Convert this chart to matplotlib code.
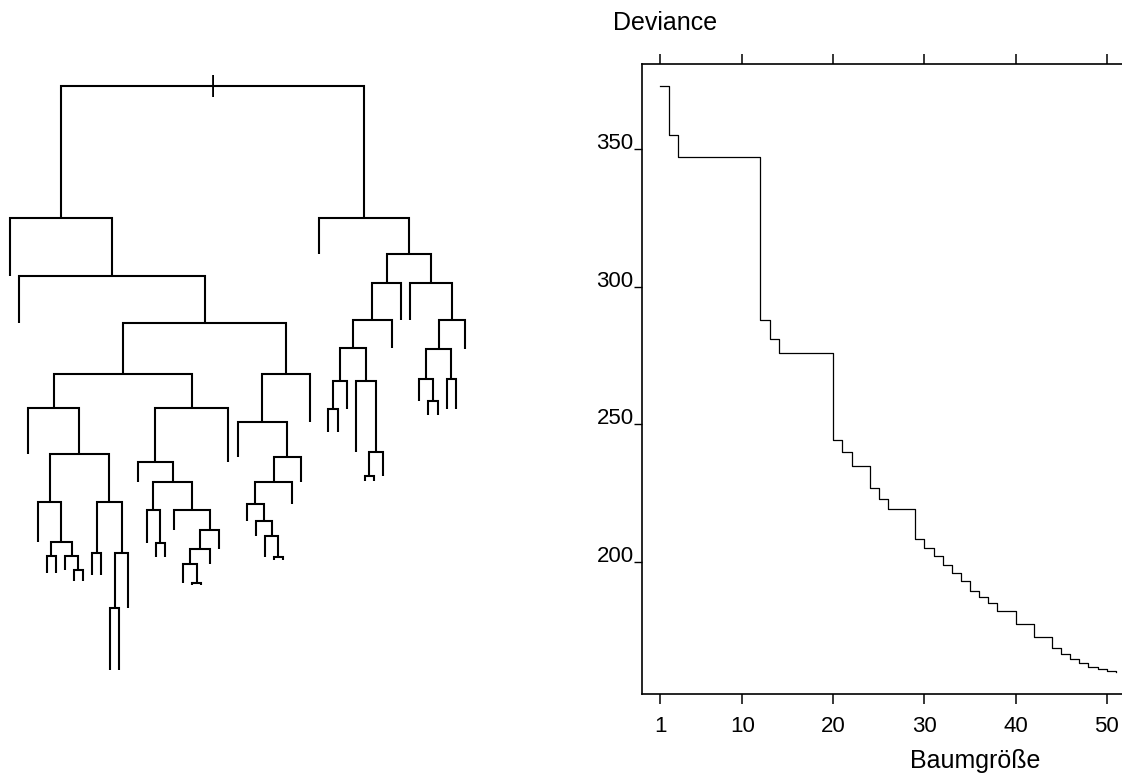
import matplotlib
matplotlib.use("Agg")
import matplotlib.pyplot as plt

plt.rcParams["font.family"] = ["Liberation Sans", "DejaVu Sans"]

# pruning sequence: tree size vs. deviance (step plot, right panel)
tree_size = [1, 2, 3, 12, 13, 14, 20, 21, 22, 24, 25, 26, 29, 30, 31, 32, 33, 34,
             35, 36, 37, 38, 40, 42, 44, 45, 46, 47, 48, 49, 50, 51]
deviance = [373.0, 355.3, 347.2, 288.1, 281.2, 275.9, 244.5, 239.8, 234.9, 226.7,
            222.7, 219.3, 208.3, 204.9, 202.1, 198.8, 196.0, 193.0, 189.6, 187.2,
            185.0, 182.3, 177.6, 172.8, 168.7, 166.7, 164.9, 163.3, 161.8, 161.1,
            160.4, 160.0]
x_ticks = [1, 10, 20, 30, 40, 50]
y_ticks = [200, 250, 300, 350]

# full tree (left panel): split nodes in R numbering (children 2n, 2n+1)
# and the deviance level their two children hang down to
root_dev = 373.0
split_ids = [1, 2, 5, 11, 22, 44, 89, 178, 357, 714, 715, 1431, 179, 358, 359, 718,
             45, 90, 181, 362, 725, 363, 727, 1454, 2908, 5817, 23, 46, 93, 186, 372,
             745, 1491, 2983, 3, 7, 14, 28, 56, 112, 224, 113, 227, 454, 15, 31, 62,
             124, 249, 125]
child_dev = [355.1, 347.3, 340.9, 334.1, 329.4, 323.2, 316.8, 311.4, 309.4, 307.1,
             307.6, 306.1, 309.9, 306.9, 302.4, 294.0, 322.1, 319.4, 315.7, 311.2,
             309.3, 312.9, 310.4, 308.4, 305.8, 305.5, 327.6, 322.8, 319.5, 316.5,
             314.2, 312.2, 309.3, 308.9, 350.3, 346.3, 341.4, 337.6, 333.1, 329.3,
             326.2, 323.5, 320.2, 319.6, 341.3, 337.4, 333.4, 330.4, 328.5, 329.3]

W, H = 1122, 778


def px_rect(left, top, right, bottom):
    return [left / W, 1 - bottom / H, (right - left) / W, (bottom - top) / H]


def tree_layout(splits):
    # leaves at 1..n from left to right, split nodes midway between children
    xpos = {}
    count = [0]

    def walk(node):
        if node in splits:
            x = 0.5 * (walk(2 * node) + walk(2 * node + 1))
        else:
            count[0] += 1
            x = count[0]
        xpos[node] = x
        return x

    walk(1)
    return xpos


fig = plt.figure(figsize=(W / 100, H / 100), dpi=100)

# ---- left: dendrogram
axt = fig.add_axes(px_rect(0, 0, 480, H))
splits = dict(zip(split_ids, child_dev))
xpos = tree_layout(splits)
for node, yc in splits.items():
    yn = root_dev if node == 1 else splits[node // 2]
    xl, xr = xpos[2 * node], xpos[2 * node + 1]
    axt.plot([xl, xl, xr, xr], [yc, yn, yn, yc], color="black", lw=1.5,
             solid_joinstyle="miter", solid_capstyle="butt")
axt.text(xpos[1], root_dev, "|", ha="center", va="center", fontsize=17)
axt.set_xlim(-0.133, 52.67)
axt.set_ylim(279.45, 384.58)
axt.axis("off")

# ---- right: deviance vs tree size
ax = fig.add_axes(px_rect(642, 64, 1134, 694))
ax.step(tree_size, deviance, where="post", color="black", lw=0.9)
ax.set_xlim(-1, 53)
ax.set_ylim(152, 381)
ax.spines["right"].set_visible(False)
for s in ["left", "bottom", "top"]:
    ax.spines[s].set_linewidth(1.2)
ax.set_xticks(x_ticks)
ax.set_xticklabels([str(t) for t in x_ticks])
ax.set_yticks(y_ticks)
ax.set_yticklabels([str(t) for t in y_ticks])
ax.tick_params(axis="x", direction="out", length=7, width=1.1, top=True,
               labeltop=False, labelsize=16, pad=9)
ax.tick_params(axis="y", direction="out", length=6, width=1.0, labelsize=16, pad=0)
for lab in ax.get_yticklabels():
    lab.set_verticalalignment("baseline")

fig.text(613 / W, 1 - 30 / H, "Deviance", ha="left", va="baseline", fontsize=18)
fig.text(975 / W, 1 - 768 / H, "Baumgröße", ha="center", va="baseline", fontsize=18)

fig.savefig("out.png", dpi=100)
plt.close(fig)
